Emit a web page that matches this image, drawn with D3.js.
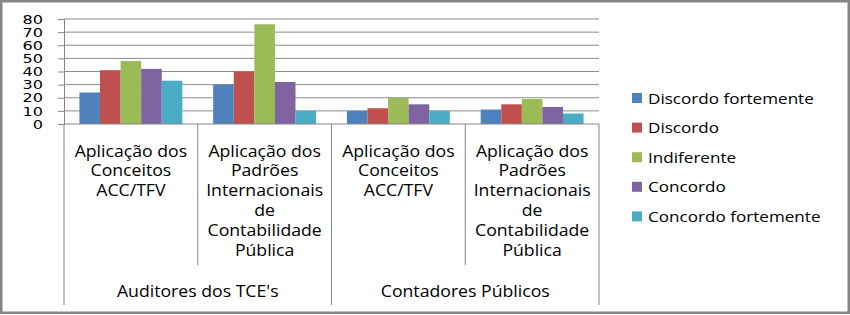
<!DOCTYPE html>
<html>
<head>
<meta charset="utf-8">
<script src="https://cdn.jsdelivr.net/npm/d3@7"></script>
<style>
  body { margin: 0; background: #fff; }
  text { font-family: "Open Sans", sans-serif; fill: #000; }
</style>
</head>
<body>
<div id="chart"></div>
<script>
// data
const groups = ["Auditores dos TCE's", "Contadores Públicos"];
const categories = [
    ["Aplicação dos", "Conceitos", "ACC/TFV"],
    ["Aplicação dos", "Padrões", "Internacionais", "de", "Contabilidade", "Pública"],
    ["Aplicação dos", "Conceitos", "ACC/TFV"],
    ["Aplicação dos", "Padrões", "Internacionais", "de", "Contabilidade", "Pública"]
];
const series = ["Discordo fortemente", "Discordo", "Indiferente", "Concordo", "Concordo fortemente"];
const discordoFortemente = [24, 30, 10, 11];
const discordo = [41, 40, 12, 15];
const indiferente = [48, 76, 20, 19];
const concordo = [42, 32, 15, 13];
const concordoFortemente = [33, 10, 10, 8];
const yTicks = [0, 10, 20, 30, 40, 50, 60, 70, 80];
const colors = ["#4F81BD", "#C0504D", "#9BBB59", "#8064A2", "#4BACC6"];

const values = [discordoFortemente, discordo, indiferente, concordo, concordoFortemente];

const W = 850, H = 315;
const margin = { top: 19, left: 64, right: 251, bottom: 191 };
const plotW = W - margin.left - margin.right;
const plotH = H - margin.top - margin.bottom;
const stretch = 1.14; // the reference text is drawn a bit wide

const svg = d3.select("#chart").append("svg")
    .attr("width", W)
    .attr("height", H);

// frame
svg.append("rect")
    .attr("x", 1.25).attr("y", 1.25)
    .attr("width", W - 2.5).attr("height", H - 3.5)
    .attr("fill", "none")
    .attr("stroke", "#868686")
    .attr("stroke-width", 2.5);

const g = svg.append("g")
    .attr("transform", `translate(${margin.left},${margin.top})`);

const y = d3.scaleLinear().domain([0, 80]).range([plotH, 0]);

const catIdx = categories.map((d, i) => i);
const x0 = d3.scaleBand().domain(catIdx).range([0, plotW]);
const bw = x0.bandwidth() / 6.5;
const x1 = d3.scaleBand().domain(series)
    .range([0.75 * bw, x0.bandwidth() - 0.75 * bw]);

// gridlines + y axis
const yAxis = d3.axisLeft(y).tickValues(yTicks).tickSize(6);
const yg = g.append("g").call(yAxis);
yg.select(".domain").attr("stroke", "#868686");
yg.selectAll(".tick line").attr("stroke", "#868686");
yg.selectAll(".tick text")
    .attr("x", 0)
    .attr("dy", "0.36em")
    .attr("transform", "translate(-21,0) scale(1.4,1)")
    .style("font-family", "'DejaVu Sans', sans-serif")
    .style("font-size", "11.5px")
    .attr("fill", "#000");

g.append("g").selectAll("line")
    .data(yTicks.filter(d => d > 0))
    .enter().append("line")
    .attr("x1", 0).attr("x2", plotW)
    .attr("y1", d => y(d)).attr("y2", d => y(d))
    .attr("stroke", "#8c8c8c");

// bars
const cat = g.selectAll(".cat")
    .data(catIdx)
    .enter().append("g")
    .attr("class", "cat")
    .attr("transform", d => `translate(${x0(d)},0)`);

cat.selectAll("rect")
    .data(i => series.map((s, k) => ({ s: s, k: k, v: values[k][i] })))
    .enter().append("rect")
    .attr("x", d => x1(d.s))
    .attr("width", x1.bandwidth())
    .attr("y", d => y(d.v))
    .attr("height", d => plotH - y(d.v))
    .attr("fill", d => colors[d.k]);

// category axis
g.append("line")
    .attr("x1", 0).attr("x2", plotW)
    .attr("y1", plotH).attr("y2", plotH)
    .attr("stroke", "#868686");

const boundaries = d3.range(categories.length + 1).map(i => i * x0.bandwidth());
g.selectAll(".ctick")
    .data(boundaries)
    .enter().append("line")
    .attr("class", "ctick")
    .attr("x1", d => d).attr("x2", d => d)
    .attr("y1", plotH)
    .attr("y2", (d, i) => i % 2 === 0 ? 286 : 246)
    .attr("stroke", "#868686");

cat.append("text")
    .attr("text-anchor", "middle")
    .attr("transform", `translate(${x0.bandwidth() / 2},0) scale(${stretch},1)`)
    .style("font-size", "15.5px")
    .selectAll("tspan")
    .data(i => categories[i])
    .enter().append("tspan")
    .attr("x", 0)
    .attr("y", (d, j) => plotH + 32.7 + j * 19.8)
    .text(d => d);

const gw = x0.bandwidth() * 2;
g.selectAll(".grp")
    .data(groups)
    .enter().append("text")
    .attr("class", "grp")
    .attr("text-anchor", "middle")
    .attr("transform", (d, i) => `translate(${i * gw + gw / 2},${plotH + 172.7}) scale(${stretch},1)`)
    .style("font-size", "15.5px")
    .text(d => d);

// legend
const legend = svg.append("g")
    .attr("transform", "translate(632,98)");

const item = legend.selectAll(".legend-item")
    .data(series)
    .enter().append("g")
    .attr("class", "legend-item")
    .attr("transform", (d, i) => `translate(0,${i * 29.6})`);

item.append("rect")
    .attr("x", 0).attr("y", -5)
    .attr("width", 10).attr("height", 10)
    .attr("fill", (d, i) => colors[i]);

item.append("text")
    .attr("transform", `translate(16,5.5) scale(${stretch},1)`)
    .style("font-size", "15px")
    .text(d => d);
</script>
</body>
</html>
